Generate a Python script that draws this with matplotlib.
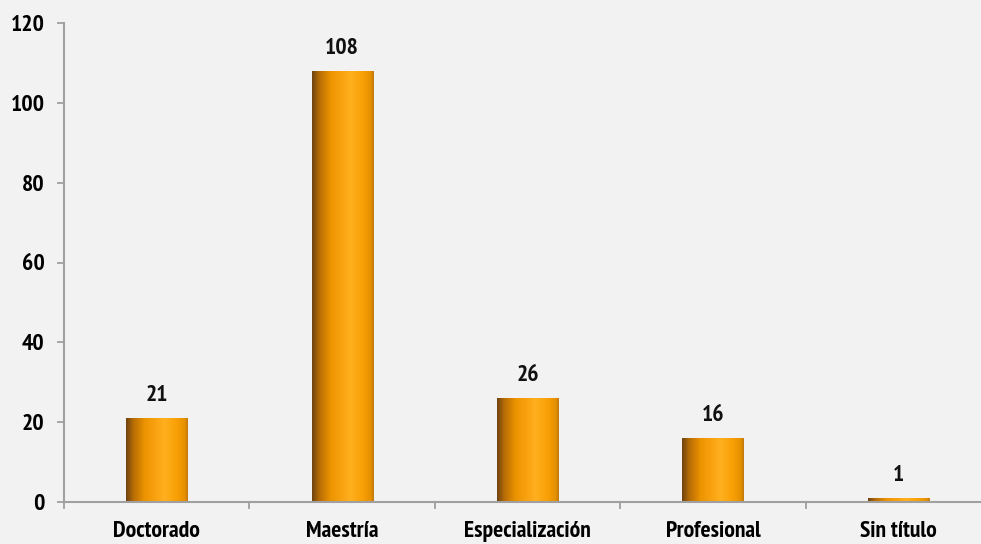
import matplotlib
matplotlib.use("Agg")
import matplotlib.pyplot as plt
import numpy as np
from matplotlib.colors import LinearSegmentedColormap
from matplotlib import font_manager

categories = ["Doctorado", "Maestría", "Especialización", "Profesional", "Sin título"]
values = [21, 108, 26, 16, 1]
yticks = [0, 20, 40, 60, 80, 100, 120]

names = {f.name for f in font_manager.fontManager.ttflist}
fam = "Liberation Sans"
for cand in ["Liberation Sans Narrow", "Arial Narrow", "Arimo Narrow", "PT Sans Narrow",
             "Roboto Condensed", "Archivo Narrow", "Open Sans Condensed"]:
    if cand in names:
        fam = cand
        break
plt.rcParams["font.family"] = [fam, "DejaVu Sans"]

bg = "#f2f2f2"
fig = plt.figure(figsize=(9.81, 5.44), dpi=100, facecolor=bg)
W, H = 981, 544
left, right, top, bottom = 64, 991, 23, 502
ax = fig.add_axes([left / W, 1 - bottom / H, (right - left) / W, (bottom - top) / H])
ax.set_facecolor(bg)

x = np.arange(len(categories))
width = 0.33
cmap = LinearSegmentedColormap.from_list(
    "cyl",
    [(0.0, "#6e4210"), (0.12, "#b86d05"), (0.3, "#ec9300"), (0.5, "#fba412"),
     (0.62, "#ffb01f"), (0.82, "#f8a005"), (0.95, "#e69000"), (1.0, "#c07a10")])
grad = np.linspace(0, 1, 256).reshape(1, -1)

fs = 17
bars = ax.bar(x, values, width=width, color="none", edgecolor="none")
for b, v in zip(bars, values):
    x0 = b.get_x()
    im = ax.imshow(grad, cmap=cmap, aspect="auto",
                   extent=[x0, x0 + width, 0, v], zorder=2)
    im.set_clip_path(b)
    ax.text(b.get_x() + width / 2, v + 3.0, str(v), ha="center", va="bottom",
            fontsize=fs, fontweight="bold", color="#111111")

ax.set_xlim(-0.5, len(categories) - 0.5)
ax.set_ylim(0, 120)
ax.set_yticks(yticks)
ax.set_yticklabels([str(t) for t in yticks], fontsize=fs, fontweight="bold")
ax.set_xticks(x)
ax.set_xticklabels(categories, fontsize=fs, fontweight="bold")
ax.set_xticks(np.arange(len(categories) + 1) - 0.5, minor=True)
ax.tick_params(axis="x", which="major", length=0, pad=14)
ax.tick_params(axis="x", which="minor", length=5, width=1.3, color="#a0a0a0")
ax.tick_params(axis="y", length=5, width=1.3, color="#a0a0a0", pad=9)

for s in ["top", "right"]:
    ax.spines[s].set_visible(False)
for s in ["left", "bottom"]:
    ax.spines[s].set_color("#a0a0a0")
    ax.spines[s].set_linewidth(1.5)

fig.savefig("out.png", dpi=100, facecolor=bg)
